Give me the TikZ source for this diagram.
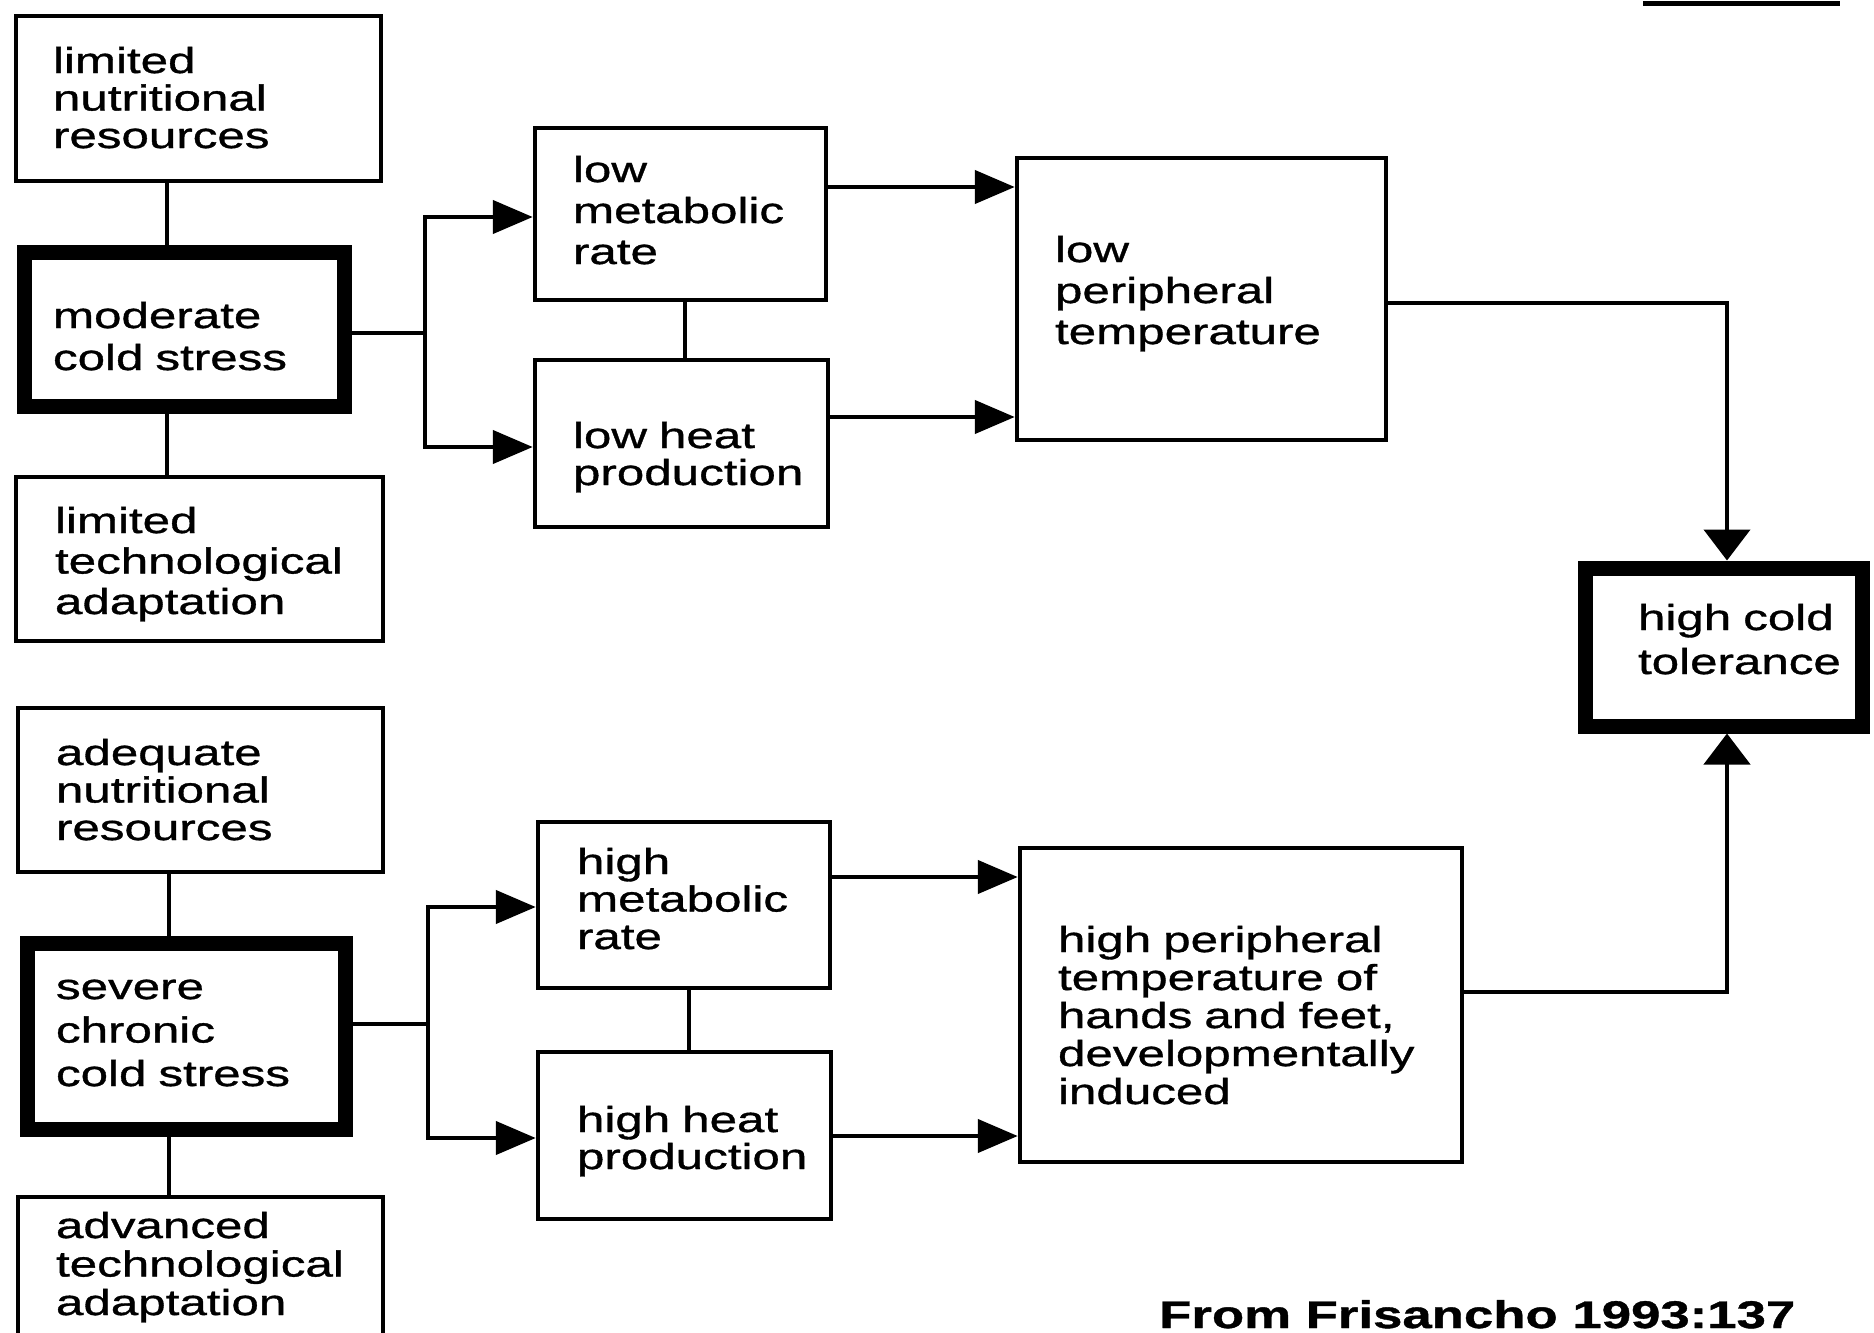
\documentclass[tikz,border=0pt]{standalone}
\usepackage{fontspec}
\setmainfont{Liberation Sans}[FakeStretch=1.37,FakeBold=1.0]
\usetikzlibrary{arrows.meta}
\hfuzz=300pt
\hbadness=10000
\begin{document}
\begin{tikzpicture}[x=1pt,y=-1pt,
  bx/.style={draw, line width=4.5pt, align=left, inner ysep=0pt, text height=30pt,
             font=\fontsize{36pt}{40pt}\selectfont},
  bxthick/.style={bx, line width=15pt},
  ln/.style={line width=4.5pt},
  harr/.style={ln, -{Triangle[length=40pt,width=33pt]}},
  varr/.style={ln, -{Triangle[length=31pt,width=46pt]}}]
\useasboundingbox[fill=white] (0,0) rectangle (1874,1333);

% upper group
\node[bx, minimum width=365pt, minimum height=165pt, text width=291pt, inner xsep=37pt,
      text depth=81pt, font=\fontsize{36pt}{37.5pt}\selectfont] (ltn) at (198.5,98.5) {limited\\nutritional\\resources};
\node[bxthick, minimum width=320pt, minimum height=153.5pt, text width=263pt, inner xsep=28.5pt,
      text depth=32.5pt, font=\fontsize{36pt}{42pt}\selectfont] (mcs) at (184.5,329.25) {moderate\\cold stress};
\node[bx, minimum width=367pt, minimum height=164pt, text width=289pt, inner xsep=39pt,
      text depth=82pt, font=\fontsize{36pt}{40.5pt}\selectfont] (lta) at (199.5,559) {limited\\technological\\adaptation};
\node[bx, minimum width=291pt, minimum height=172pt, text width=215pt, inner xsep=38pt,
      text depth=94pt, font=\fontsize{36pt}{41pt}\selectfont] (lmr) at (680.5,214) {low\\metabolic\\rate};
\node[bx, minimum width=293pt, minimum height=167pt, text width=217pt, inner xsep=38pt,
      text depth=21pt, font=\fontsize{36pt}{37pt}\selectfont] (lhp) at (681.5,443.5) {low heat\\production};
\node[bx, minimum width=369pt, minimum height=282pt, text width=293pt, inner xsep=38pt,
      text depth=104pt, font=\fontsize{36pt}{41pt}\selectfont] (lpt) at (1201.5,299) {low\\peripheral\\temperature};

% result
\node[bxthick, minimum width=277pt, minimum height=158pt, text width=171pt, inner xsep=53pt,
      text depth=64pt, font=\fontsize{36pt}{44pt}\selectfont] (hct) at (1723.5,647) {high~cold\\tolerance};

% lower group
\node[bx, minimum width=365pt, minimum height=164pt, text width=289pt, inner xsep=38pt,
      text depth=80pt, font=\fontsize{36pt}{37.5pt}\selectfont] (anr) at (200.5,790) {adequate\\nutritional\\resources};
\node[bxthick, minimum width=318pt, minimum height=186pt, text width=261pt, inner xsep=28.5pt,
      text depth=105pt, font=\fontsize{36pt}{43.5pt}\selectfont] (sccs) at (186.5,1036.5) {severe\\chronic\\cold stress};
\node[bx, minimum width=365pt, minimum height=140pt, text width=289pt, inner xsep=38pt,
      text depth=88pt, font=\fontsize{36pt}{38.5pt}\selectfont] (ata) at (200.5,1267) {advanced\\technological\\adaptation};
\node[bx, minimum width=292pt, minimum height=166pt, text width=214pt, inner xsep=39pt,
      text depth=92pt, font=\fontsize{36pt}{37.5pt}\selectfont] (hmr) at (684,905) {high\\metabolic\\rate};
\node[bx, minimum width=293pt, minimum height=167pt, text width=215pt, inner xsep=39pt,
      text depth=37pt, font=\fontsize{36pt}{37pt}\selectfont] (hhp) at (684.5,1135.5) {high heat\\production};
\node[bx, minimum width=442pt, minimum height=314pt, text width=366pt, inner xsep=38pt,
      text depth=136pt, font=\fontsize{36pt}{38pt}\selectfont] (hpt) at (1241,1005) {high peripheral\\temperature of\\hands and feet,\\developmentally\\induced};

% source
\node[anchor=base west, inner sep=0pt, font=\fontsize{38.5pt}{38.5pt}\selectfont\bfseries] (src) at (1159,1328) {From Frisancho 1993:137};

% helper coordinates
\coordinate (xa) at (167,0);
\coordinate (xb) at (169,0);
\coordinate (xc) at (685,0);
\coordinate (xd) at (689,0);
\coordinate (xr) at (1727,0);
\coordinate (j1) at (425,333);
\coordinate (j2) at (428,1024);
\coordinate (ya) at (0,217);
\coordinate (yb) at (0,447);
\coordinate (yc) at (0,187);
\coordinate (yd) at (0,417);
\coordinate (ye) at (0,303);
\coordinate (yf) at (0,907);
\coordinate (yg) at (0,1138);
\coordinate (yh) at (0,877);
\coordinate (yi) at (0,1136);
\coordinate (yj) at (0,992);
\coordinate (ul1) at (1643,3);
\coordinate (ul2) at (1840,3);

% upper connectors
\draw[ln] (ltn.south -| xa) -- (mcs.north -| xa);
\draw[ln] (mcs.south -| xa) -- (lta.north -| xa);
\draw[ln] (mcs.east |- j1) -- (j1);
\draw[harr] (j1) |- (lmr.west |- ya);
\draw[harr] (j1) |- (lhp.west |- yb);
\draw[ln] (lmr.south -| xc) -- (lhp.north -| xc);
\draw[harr] (lmr.east |- yc) -- (lpt.west |- yc);
\draw[harr] (lhp.east |- yd) -- (lpt.west |- yd);
\draw[varr] (lpt.east |- ye) -| (hct.north -| xr);

% lower connectors
\draw[ln] (anr.south -| xb) -- (sccs.north -| xb);
\draw[ln] (sccs.south -| xb) -- (ata.north -| xb);
\draw[ln] (sccs.east |- j2) -- (j2);
\draw[harr] (j2) |- (hmr.west |- yf);
\draw[harr] (j2) |- (hhp.west |- yg);
\draw[ln] (hmr.south -| xd) -- (hhp.north -| xd);
\draw[harr] (hmr.east |- yh) -- (hpt.west |- yh);
\draw[harr] (hhp.east |- yi) -- (hpt.west |- yi);
\draw[varr] (hpt.east |- yj) -| (hct.south -| xr);

% underline fragment at top right
\draw[line width=5pt] (ul1) -- (ul2);
\end{tikzpicture}
\end{document}
